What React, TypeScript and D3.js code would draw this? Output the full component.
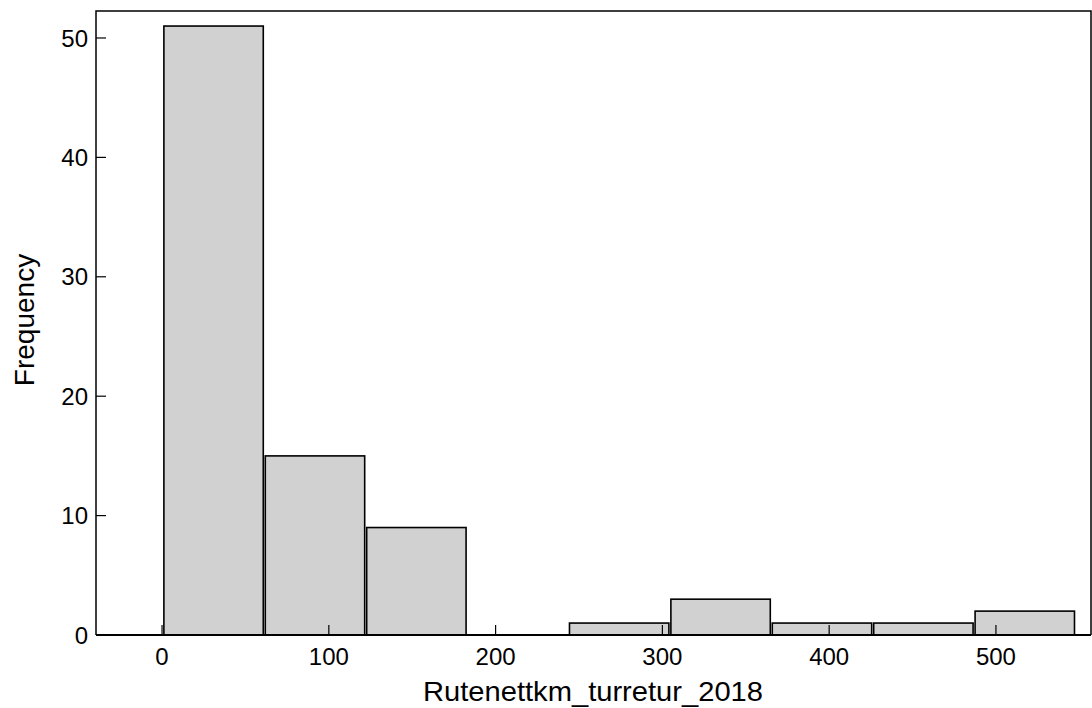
import React, { useRef, useEffect } from 'react';
import * as d3 from 'd3';

// histogram bins (edges) and counts
const binEdges = [0.5, 61.3, 122.1, 182.9, 243.7, 304.5, 365.3, 426.1, 486.9, 547.7];
const counts = [51, 15, 9, 0, 1, 3, 1, 1, 2];
const xTicks = [0, 100, 200, 300, 400, 500];
const yTicks = [0, 10, 20, 30, 40, 50];
const xTitle = 'Rutenettkm_turretur_2018';
const yTitle = 'Frequency';

const W = 1092;
const H = 708;

const App = () => {
    const svgRef = useRef<SVGSVGElement>(null);

    useEffect(() => {
        const svg = d3.select(svgRef.current);
        svg.selectAll('*').remove();

        const left = 96, right = 1091, top = 11, bottom = 635;

        const x = d3.scaleLinear().domain([-39.6, 557]).range([left, right]);
        const y = d3.scaleLinear().domain([0, 52.26]).range([bottom, top]);

        const font = 'Liberation Sans, Arial, sans-serif';

        // bars
        const bins = counts.map((c, i) => ({ x0: binEdges[i], x1: binEdges[i + 1], n: c }));
        svg.append('g')
            .selectAll('rect')
            .data(bins.filter(d => d.n > 0))
            .enter().append('rect')
            .attr('x', d => x(d.x0) + 1)
            .attr('width', d => x(d.x1) - x(d.x0) - 2)
            .attr('y', d => y(d.n))
            .attr('height', d => y(0) - y(d.n))
            .attr('fill', '#d1d1d1')
            .attr('stroke', '#000')
            .attr('stroke-width', 1.6);

        // frame
        svg.append('path')
            .attr('d', `M${left},${bottom} V${top} H${right} V${bottom}`)
            .attr('fill', 'none')
            .attr('stroke', '#000')
            .attr('stroke-width', 1.5);
        svg.append('line')
            .attr('x1', left).attr('x2', right)
            .attr('y1', bottom).attr('y2', bottom)
            .attr('stroke', '#000')
            .attr('stroke-width', 2.2);

        // x ticks (inward)
        const gx = svg.append('g');
        gx.selectAll('line')
            .data(xTicks)
            .enter().append('line')
            .attr('x1', d => x(d)).attr('x2', d => x(d))
            .attr('y1', bottom).attr('y2', bottom - 10)
            .attr('stroke', '#000')
            .attr('stroke-width', 1.2);
        gx.selectAll('text')
            .data(xTicks)
            .enter().append('text')
            .attr('x', d => x(d))
            .attr('y', bottom + 30)
            .attr('text-anchor', 'middle')
            .style('font-family', font)
            .style('font-size', '24px')
            .text(d => d);

        // y ticks (inward)
        const gy = svg.append('g');
        gy.selectAll('line')
            .data(yTicks)
            .enter().append('line')
            .attr('x1', left).attr('x2', left + 10)
            .attr('y1', d => y(d)).attr('y2', d => y(d))
            .attr('stroke', '#000')
            .attr('stroke-width', 1.2);
        gy.selectAll('text')
            .data(yTicks)
            .enter().append('text')
            .attr('x', left - 8)
            .attr('y', d => y(d) + 8.6)
            .attr('text-anchor', 'end')
            .style('font-family', font)
            .style('font-size', '24px')
            .text(d => d);

        // axis titles
        svg.append('text')
            .attr('x', 593)
            .attr('y', 701)
            .attr('text-anchor', 'middle')
            .style('font-family', font)
            .style('font-size', '28px')
            .attr('textLength', 340)
            .attr('lengthAdjust', 'spacingAndGlyphs')
            .text(xTitle);
        svg.append('text')
            .attr('transform', `translate(34,320) rotate(-90)`)
            .attr('text-anchor', 'middle')
            .style('font-family', font)
            .style('font-size', '28px')
            .text(yTitle);
    }, []);

    return (
        <svg
            ref={svgRef}
            width={W}
            height={H}
            style={{ position: 'absolute', left: 0, top: 0, background: '#fff' }}
        />
    );
};

export default App;
